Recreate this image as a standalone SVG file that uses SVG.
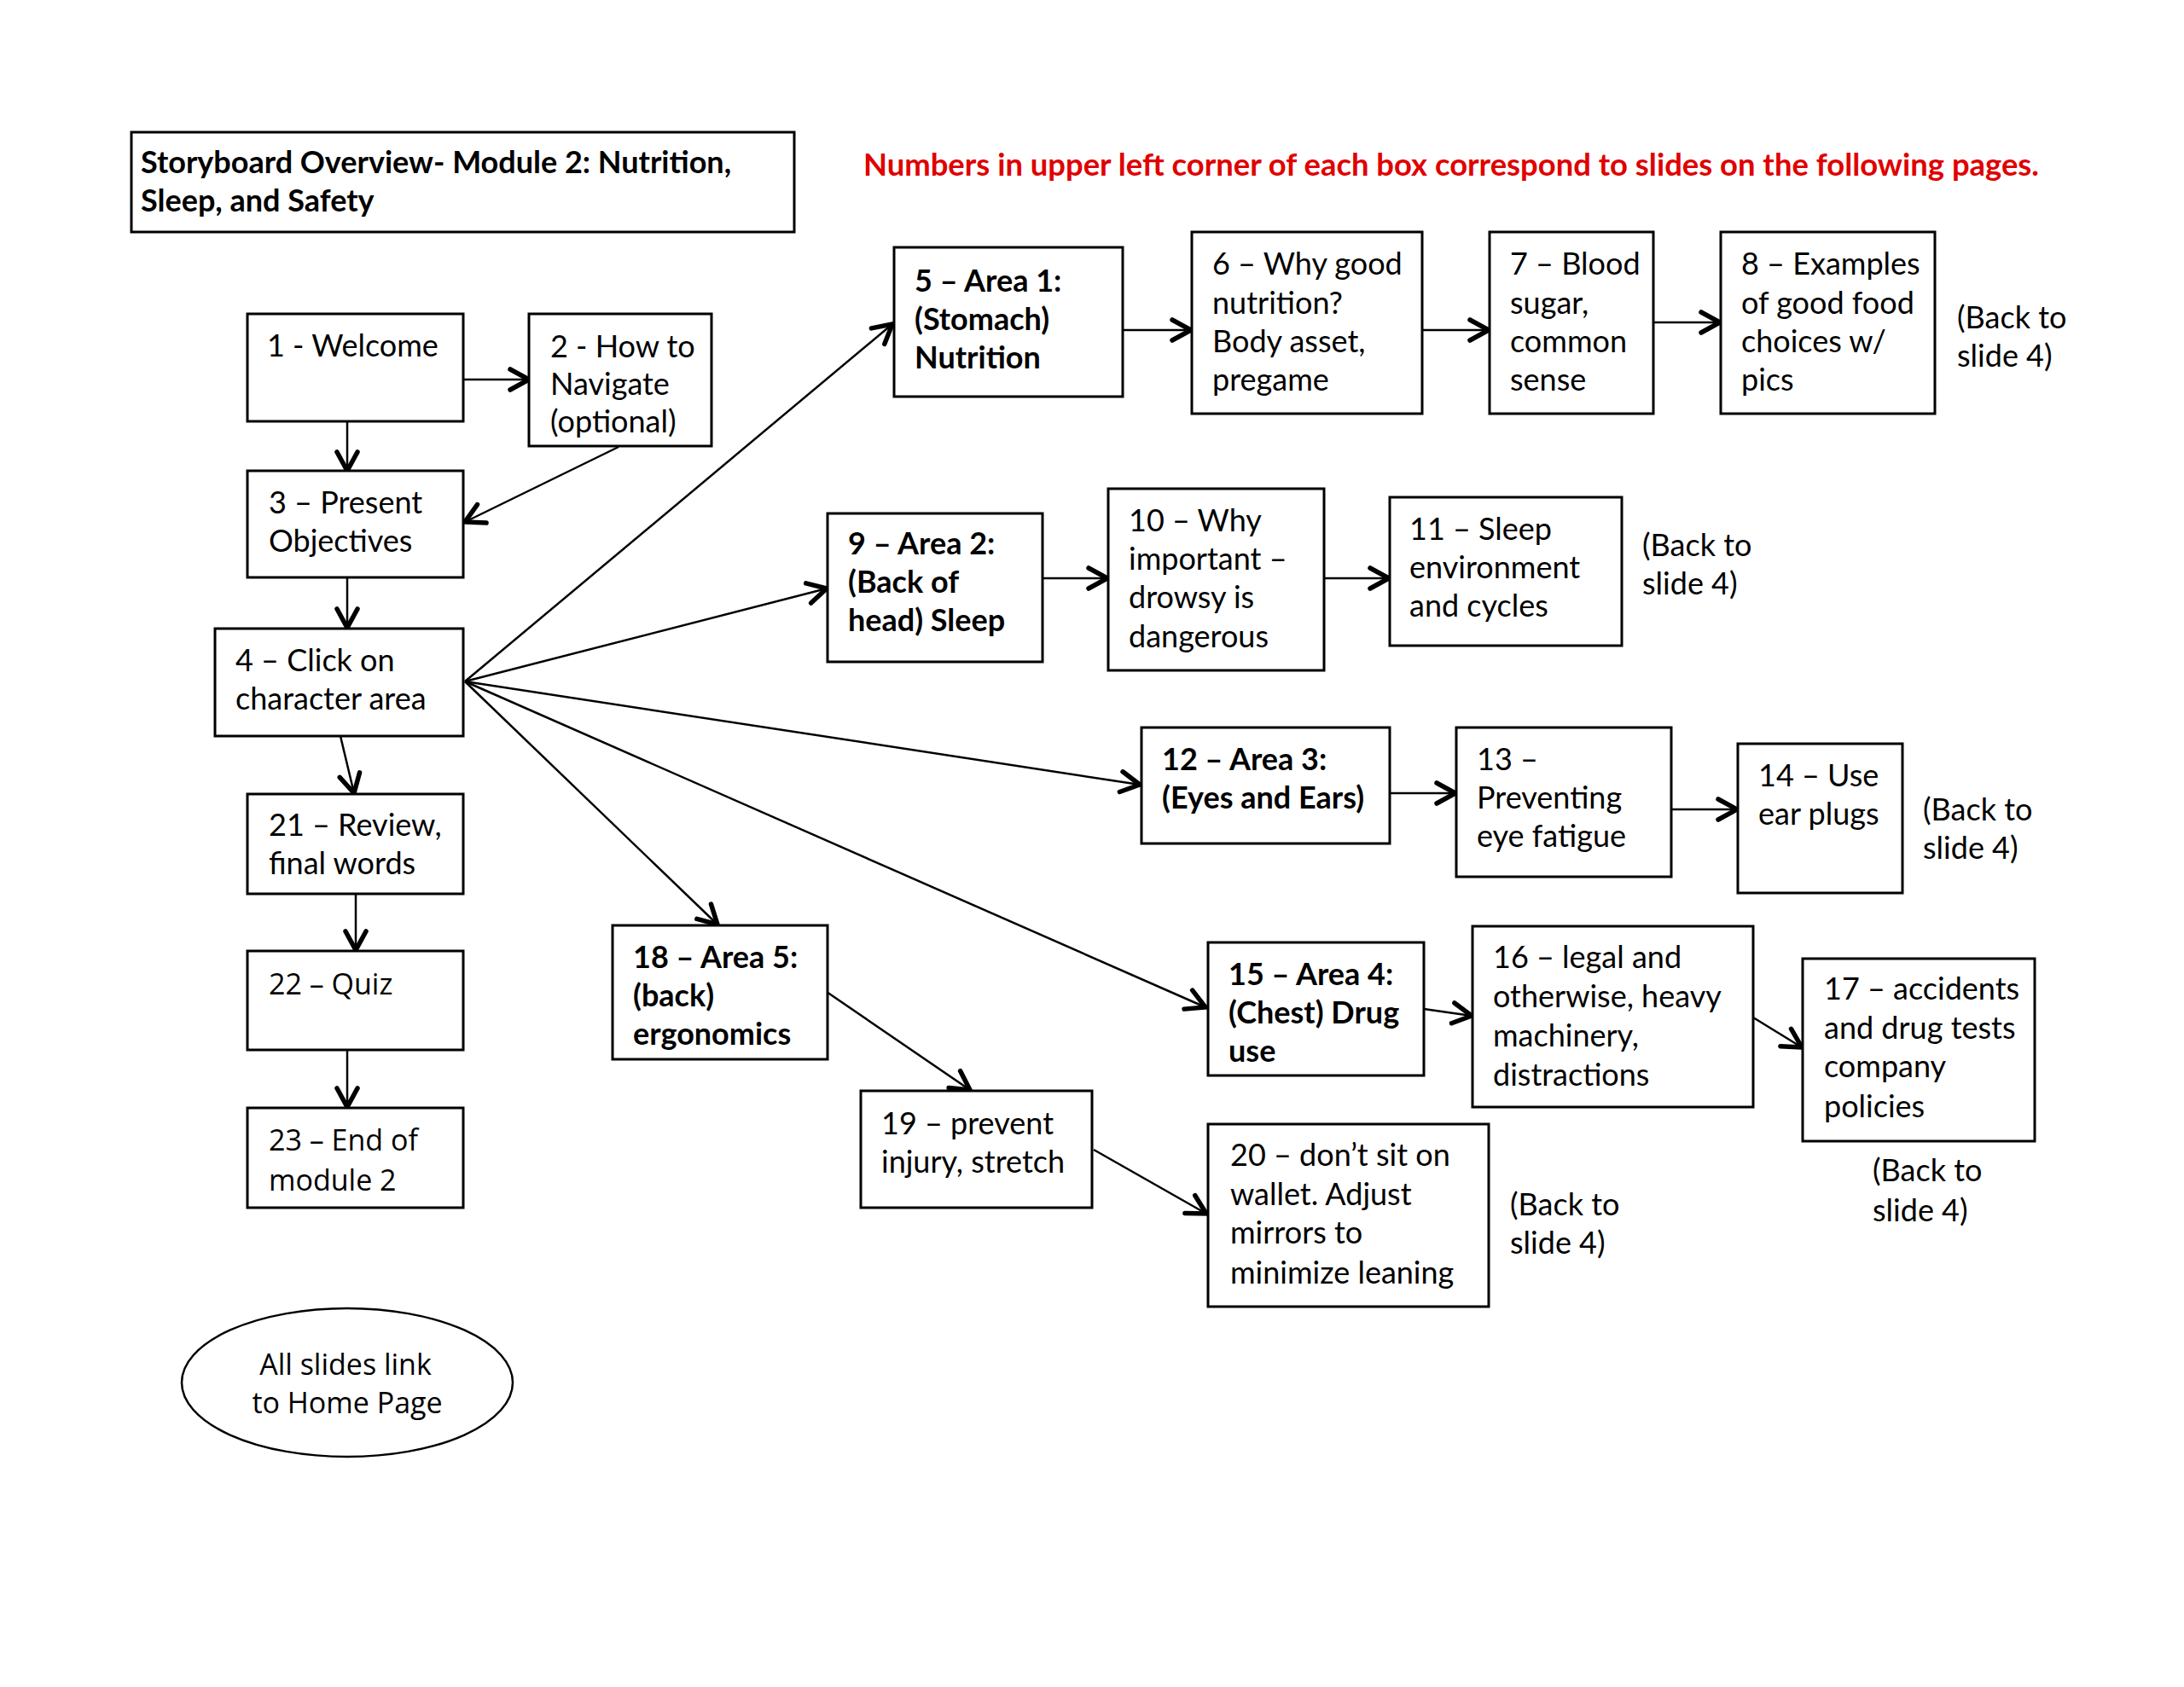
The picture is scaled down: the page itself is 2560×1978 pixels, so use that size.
<svg xmlns="http://www.w3.org/2000/svg" width="2560" height="1978" viewBox="0 0 2560 1978">
<defs>
<style>
.box{fill:#fff;stroke:#000;stroke-width:3}
.t{font-family:Lato,"Open Sans","Liberation Sans",sans-serif;font-size:36px;fill:#000}
.b{font-weight:bold}
.o{font-family:"Open Sans","Liberation Sans",sans-serif;font-size:34px;fill:#000}
.red{font-family:Lato,"Liberation Sans",sans-serif;font-size:36.3px;font-weight:bold;fill:#e00000}
.c line{stroke:#000;stroke-width:2.5;marker-end:url(#ah)}
</style>
<marker id="ah" markerUnits="userSpaceOnUse" markerWidth="30" markerHeight="32" viewBox="0 0 30 32" refX="26" refY="16" orient="auto">
<path d="M4,4 L26,16 L4,28" fill="none" stroke="#000" stroke-width="5.5" stroke-linecap="round" stroke-linejoin="miter"/>
</marker>
</defs>
<rect width="2560" height="1978" fill="#fff"/>

<g id="title">
<rect class="box" x="154" y="155" width="777" height="117"/>
<text class="t b" x="165" y="203">Storyboard Overview- Module 2: Nutrition,</text>
<text class="t b" x="165" y="248">Sleep, and Safety</text>
</g>
<g id="note">
<text class="red" x="1012" y="206" textLength="1378" lengthAdjust="spacingAndGlyphs">Numbers in upper left corner of each box correspond to slides on the following pages.</text>
</g>

<g class="c" id="connectors">
<line x1="543" y1="445" x2="620" y2="445"/>
<line x1="407" y1="494" x2="407" y2="552"/>
<line x1="725" y1="524" x2="545" y2="612"/>
<line x1="407" y1="677" x2="407" y2="736"/>
<line x1="545" y1="799" x2="1046" y2="380"/>
<line x1="545" y1="799" x2="969" y2="690"/>
<line x1="545" y1="799" x2="1336" y2="920"/>
<line x1="545" y1="799" x2="1413" y2="1181"/>
<line x1="545" y1="799" x2="841" y2="1084"/>
<line x1="399" y1="863" x2="415" y2="930"/>
<line x1="417" y1="1048" x2="417" y2="1114"/>
<line x1="407" y1="1231" x2="407" y2="1298"/>
<line x1="1316" y1="387" x2="1396" y2="387"/>
<line x1="1667" y1="387" x2="1745" y2="387"/>
<line x1="1938" y1="378" x2="2016" y2="378"/>
<line x1="1222" y1="678" x2="1298" y2="678"/>
<line x1="1552" y1="678" x2="1628" y2="678"/>
<line x1="1629" y1="930" x2="1706" y2="930"/>
<line x1="1959" y1="949" x2="2036" y2="949"/>
<line x1="1669" y1="1183" x2="1725" y2="1191"/>
<line x1="2055" y1="1193" x2="2112" y2="1228"/>
<line x1="969" y1="1163" x2="1137" y2="1278"/>
<line x1="1282" y1="1348" x2="1414" y2="1423"/>
</g>

<g id="n1"><rect class="box" x="290" y="368" width="253" height="126"/>
<text class="t" x="313" y="418">1 - Welcome</text></g>
<g id="n2"><rect class="box" x="620" y="368" width="214" height="155"/>
<text class="t" x="645" y="419">2 - How to</text><text class="t" x="645" y="463">Navigate</text><text class="t" x="645" y="507">(optional)</text></g>
<g id="n3"><rect class="box" x="290" y="552" width="253" height="125"/>
<text class="t" x="315" y="602">3 – Present</text><text class="t" x="315" y="647">Objectives</text></g>
<g id="n4"><rect class="box" x="252" y="737" width="291" height="126"/>
<text class="t" x="276" y="787">4 – Click on</text><text class="t" x="276" y="832">character area</text></g>
<g id="n21"><rect class="box" x="290" y="931" width="253" height="117"/>
<text class="t" x="315" y="980">21 – Review,</text><text class="t" x="315" y="1025">final words</text></g>
<g id="n22"><rect class="box" x="290" y="1115" width="253" height="116"/>
<text class="o" x="315" y="1166">22 – Quiz</text></g>
<g id="n23"><rect class="box" x="290" y="1299" width="253" height="117"/>
<text class="o" x="315" y="1349">23 – End of</text><text class="o" x="315" y="1396">module 2</text></g>
<g id="home"><ellipse cx="407" cy="1621" rx="194" ry="87" fill="#fff" stroke="#000" stroke-width="2.5"/>
<text class="o" x="405" y="1612" text-anchor="middle">All slides link</text><text class="o" x="407" y="1657" text-anchor="middle">to Home Page</text></g>

<g id="n5"><rect class="box" x="1048" y="290" width="268" height="175"/>
<text class="t b" x="1072" y="342">5 – Area 1:</text><text class="t b" x="1072" y="387">(Stomach)</text><text class="t b" x="1072" y="432">Nutrition</text></g>
<g id="n6"><rect class="box" x="1397" y="272" width="270" height="213"/>
<text class="t" x="1421" y="322">6 – Why good</text><text class="t" x="1421" y="368">nutrition?</text><text class="t" x="1421" y="413">Body asset,</text><text class="t" x="1421" y="458">pregame</text></g>
<g id="n7"><rect class="box" x="1746" y="272" width="192" height="213"/>
<text class="t" x="1770" y="322">7 – Blood</text><text class="t" x="1770" y="368">sugar,</text><text class="t" x="1770" y="413">common</text><text class="t" x="1770" y="458">sense</text></g>
<g id="n8"><rect class="box" x="2017" y="272" width="251" height="213"/>
<text class="t" x="2041" y="322">8 – Examples</text><text class="t" x="2041" y="368">of good food</text><text class="t" x="2041" y="413">choices w/</text><text class="t" x="2041" y="458">pics</text></g>
<g id="back1"><text class="t" x="2294" y="385">(Back to</text><text class="t" x="2294" y="430">slide 4)</text></g>

<g id="n9"><rect class="box" x="970" y="602" width="252" height="174"/>
<text class="t b" x="994" y="650">9 – Area 2:</text><text class="t b" x="994" y="695">(Back of</text><text class="t b" x="994" y="740">head) Sleep</text></g>
<g id="n10"><rect class="box" x="1299" y="573" width="253" height="213"/>
<text class="t" x="1323" y="623">10 – Why</text><text class="t" x="1323" y="668">important –</text><text class="t" x="1323" y="713">drowsy is</text><text class="t" x="1323" y="759">dangerous</text></g>
<g id="n11"><rect class="box" x="1629" y="583" width="272" height="174"/>
<text class="t" x="1652" y="633">11 – Sleep</text><text class="t" x="1652" y="678">environment</text><text class="t" x="1652" y="723">and cycles</text></g>
<g id="back2"><text class="t" x="1925" y="652">(Back to</text><text class="t" x="1925" y="697">slide 4)</text></g>

<g id="n12"><rect class="box" x="1338" y="853" width="291" height="136"/>
<text class="t b" x="1362" y="903">12 – Area 3:</text><text class="t b" x="1362" y="948">(Eyes and Ears)</text></g>
<g id="n13"><rect class="box" x="1707" y="853" width="252" height="175"/>
<text class="t" x="1731" y="903">13 –</text><text class="t" x="1731" y="948">Preventing</text><text class="t" x="1731" y="993">eye fatigue</text></g>
<g id="n14"><rect class="box" x="2037" y="872" width="193" height="175"/>
<text class="t" x="2061" y="922">14 – Use</text><text class="t" x="2061" y="967">ear plugs</text></g>
<g id="back3"><text class="t" x="2254" y="962">(Back to</text><text class="t" x="2254" y="1007">slide 4)</text></g>

<g id="n15"><rect class="box" x="1416" y="1105" width="253" height="156"/>
<text class="t b" x="1440" y="1155">15 – Area 4:</text><text class="t b" x="1440" y="1200">(Chest) Drug</text><text class="t b" x="1440" y="1245">use</text></g>
<g id="n16"><rect class="box" x="1726" y="1086" width="329" height="212"/>
<text class="t" x="1750" y="1135">16 – legal and</text><text class="t" x="1750" y="1181">otherwise, heavy</text><text class="t" x="1750" y="1227">machinery,</text><text class="t" x="1750" y="1273">distractions</text></g>
<g id="n17"><rect class="box" x="2113" y="1124" width="272" height="214"/>
<text class="t" x="2138" y="1172">17 – accidents</text><text class="t" x="2138" y="1218">and drug tests</text><text class="t" x="2138" y="1263">company</text><text class="t" x="2138" y="1310">policies</text></g>
<g id="back4"><text class="t" x="2195" y="1385">(Back to</text><text class="t" x="2195" y="1432">slide 4)</text></g>

<g id="n18"><rect class="box" x="718" y="1085" width="252" height="157"/>
<text class="t b" x="742" y="1135">18 – Area 5:</text><text class="t b" x="742" y="1180">(back)</text><text class="t b" x="742" y="1225">ergonomics</text></g>
<g id="n19"><rect class="box" x="1009" y="1279" width="271" height="137"/>
<text class="t" x="1033" y="1330">19 – prevent</text><text class="t" x="1033" y="1375">injury, stretch</text></g>
<g id="n20"><rect class="box" x="1416" y="1318" width="329" height="214"/>
<text class="t" x="1442" y="1367">20 – don’t sit on</text><text class="t" x="1442" y="1413">wallet. Adjust</text><text class="t" x="1442" y="1458">mirrors to</text><text class="t" x="1442" y="1505">minimize leaning</text></g>
<g id="back5"><text class="t" x="1770" y="1425">(Back to</text><text class="t" x="1770" y="1470">slide 4)</text></g>
</svg>
